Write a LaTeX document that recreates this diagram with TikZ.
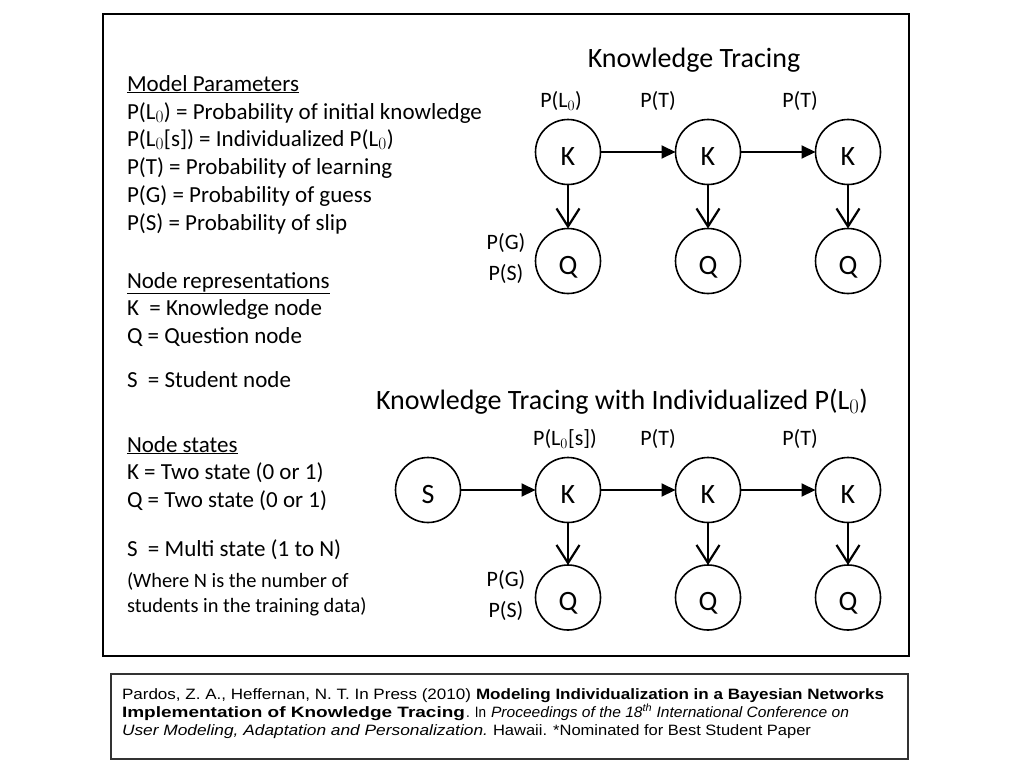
\documentclass[tikz,border=0pt]{standalone}
\usepackage{fontspec}
\setmainfont{Carlito}
\newfontfamily\citefont{Liberation Sans}
\usetikzlibrary{arrows.meta}
\newcommand{\fitw}[2]{\resizebox{#1pt}{\height}{#2}}
\begin{document}
\begin{tikzpicture}[x=1pt,y=-1pt,
  every node/.style={inner sep=0pt,outer sep=0pt},
  txt/.style={anchor=base west,font=\fontsize{23}{27}\selectfont},
  small/.style={anchor=base west,font=\fontsize{20.4}{24}\selectfont},
  lbl/.style={anchor=base,font=\fontsize{22}{26}\selectfont},
  ttl/.style={anchor=base,font=\fontsize{28}{32}\selectfont},
  circ/.style={circle,draw,line width=1.6pt,minimum size=65pt,text height=26pt,text depth=0pt,font=\fontsize{28}{32}\selectfont},
  harr/.style={line width=2pt,-{Triangle[length=14pt,width=13pt]}},
  varr/.style={line width=2.2pt,-{Straight Barb[length=18pt,width=23pt]}},
  cite/.style={anchor=base west,font=\citefont\fontsize{15}{18}\selectfont}]
\useasboundingbox (0,0) rectangle (1024,768);
\fill[white] (0,0) rectangle (1024,768);
\draw[line width=2pt] (103,14) rectangle (909,656);
\draw[line width=1.2pt,black!80] (111,674) rectangle (908,759);

% left text
\node[txt] (t1) at (127,91) {\underline{Model Parameters}};
\node[txt] (t2) at (127,119) {P(L$_0$) = Probability of initial knowledge};
\node[txt] (t3) at (127,146) {P(L$_0$[s]) = Individualized P(L$_0$)};
\node[txt] (t4) at (127,174) {P(T) = Probability of learning};
\node[txt] (t5) at (127,202) {P(G) = Probability of guess};
\node[txt] (t6) at (127,230) {P(S) = Probability of slip};
\node[txt] (t7) at (127,288) {\underline{Node representations}};
\node[txt] (t8) at (127,315) {K~ = Knowledge node};
\node[txt] (t9) at (127,343) {Q = Question node};
\node[txt] (t10) at (127,387) {S~ = Student node};
\node[txt] (t11) at (127,452) {\underline{Node states}};
\node[txt] (t12) at (127,479) {K = Two state (0 or 1)};
\node[txt] (t13) at (127,507) {Q = Two state (0 or 1)};
\node[txt] (t14) at (127,556) {S~ = Multi state (1 to N)};
\node[small] (t15) at (127,587) {(Where N is the number of};
\node[small] (t16) at (127,612) {students in the training data)};

% top diagram
\node[ttl] (title1) at (694,67) {Knowledge Tracing};
\node[circ] (k1) at (568,152) {K};
\node[circ] (k2) at (708,152) {K};
\node[circ] (k3) at (848,152) {K};
\node[circ] (q1) at (568,261) {Q};
\node[circ] (q2) at (708,261) {Q};
\node[circ] (q3) at (848,261) {Q};
\draw[harr] (k1) -- (k2);
\draw[harr] (k2) -- (k3);
\draw[varr] (k1) -- (q1);
\draw[varr] (k2) -- (q2);
\draw[varr] (k3) -- (q3);
\node[lbl] (l1) at (561,107) {P(L$_0$)};
\node[lbl] (l2) at (658,107) {P(T)};
\node[lbl] (l3) at (800,107) {P(T)};
\node[lbl] (g1) at (506,249) {P(G)};
\node[lbl] (s1) at (506,280) {P(S)};

% bottom diagram
\node[ttl] (title2) at (622,409) {Knowledge Tracing with Individualized P(L$_0$)};
\node[circ] (s) at (428,490) {S};
\node[circ] (kk1) at (568,490) {K};
\node[circ] (kk2) at (708,490) {K};
\node[circ] (kk3) at (848,490) {K};
\node[circ] (qq1) at (568,597.5) {Q};
\node[circ] (qq2) at (708,597.5) {Q};
\node[circ] (qq3) at (848,597.5) {Q};
\draw[harr] (s) -- (kk1);
\draw[harr] (kk1) -- (kk2);
\draw[harr] (kk2) -- (kk3);
\draw[varr] (kk1) -- (qq1);
\draw[varr] (kk2) -- (qq2);
\draw[varr] (kk3) -- (qq3);
\node[lbl] (ll1) at (565,445) {P(L$_0$[s])};
\node[lbl] (ll2) at (658,445) {P(T)};
\node[lbl] (ll3) at (800,445) {P(T)};
\node[lbl] (gg1) at (506,586) {P(G)};
\node[lbl] (ss1) at (506,617) {P(S)};

% citation
\node[cite] (c1a) at (122,699) {\fitw{349}{Pardos, Z. A., Heffernan, N. T. In Press (2010)}};
\node[cite] (c1b) at (476,699) {\fitw{408}{\bfseries Modeling Individualization in a Bayesian Networks}};
\node[cite] (c2a) at (122,717) {\fitw{343}{\bfseries Implementation of Knowledge Tracing}};
\node[cite] (c2b) at (466,717) {\fitw{20}{. In}};
\node[cite] (c2c) at (491,717) {\fitw{358}{\itshape Proceedings of the 18\textsuperscript{th} International Conference on}};
\node[cite] (c3a) at (122,735) {\fitw{366}{\itshape User Modeling, Adaptation and Personalization.}};
\node[cite] (c3b) at (493,735) {\fitw{318}{Hawaii. *Nominated for Best Student Paper}};
\end{tikzpicture}
\end{document}
